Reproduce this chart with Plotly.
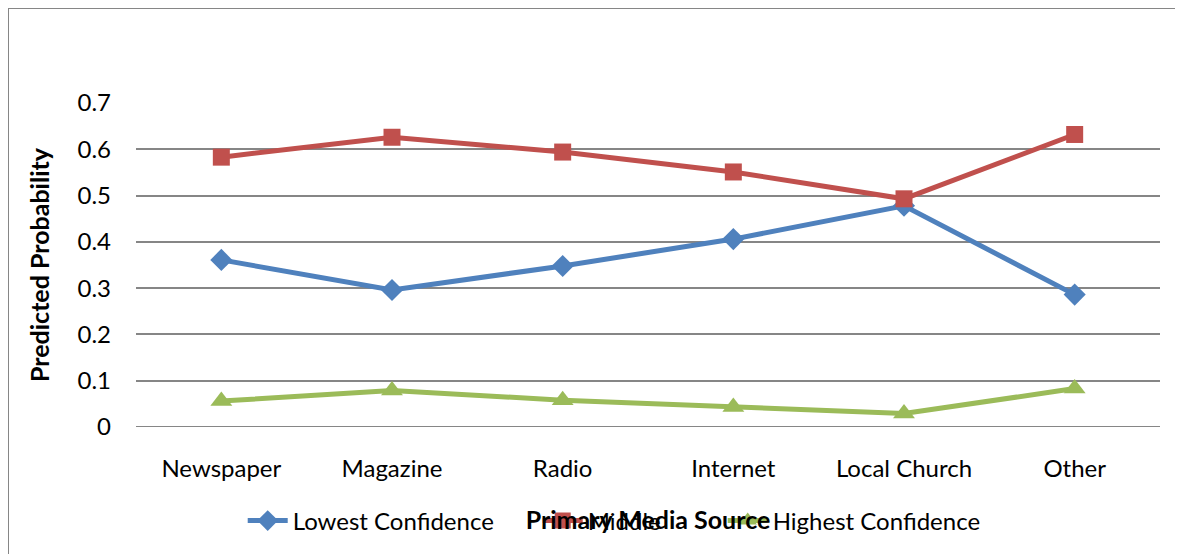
import plotly.graph_objects as go

categories = ["Newspaper", "Magazine", "Radio", "Internet", "Local Church", "Other"]
lowest = [0.361, 0.296, 0.348, 0.406, 0.478, 0.286]
middle = [0.583, 0.626, 0.594, 0.551, 0.493, 0.632]
highest = [0.056, 0.079, 0.058, 0.043, 0.029, 0.083]
yticks = [0, 0.1, 0.2, 0.3, 0.4, 0.5, 0.6, 0.7]
ytick_text = ["0", "0.1", "0.2", "0.3", "0.4", "0.5", "0.6", "0.7"]

FONT = "Lato"
fig = go.Figure()
fig.add_trace(go.Scatter(x=categories, y=lowest, name="Lowest Confidence", mode="lines+markers",
                         line=dict(color="#4F81BD", width=5), legendwidth=240,
                         marker=dict(symbol="diamond", size=17, color="#4F81BD")))
fig.add_trace(go.Scatter(x=categories, y=middle, name="Middle", mode="lines+markers",
                         line=dict(color="#C0504D", width=5), legendwidth=130,
                         marker=dict(symbol="square", size=17, color="#C0504D")))
fig.add_trace(go.Scatter(x=categories, y=highest, name="Highest Confidence", mode="lines+markers",
                         line=dict(color="#9BBB59", width=5),
                         marker=dict(symbol="triangle-up", size=19, color="#9BBB59")))

fig.update_layout(
    width=1183, height=554,
    margin=dict(l=128, r=31, t=95, b=135),
    paper_bgcolor="white", plot_bgcolor="white",
    font=dict(family=FONT, size=24, color="black"),
    showlegend=True,
    legend=dict(orientation="h", x=0.467, xanchor="center", y=-0.29, yanchor="middle",
                font=dict(family=FONT, size=24, color="black"), bgcolor="rgba(0,0,0,0)",
                itemwidth=40),
    xaxis=dict(range=[-0.5, 5.5], showgrid=False, showline=False, zeroline=False,
               ticks="", ticklabelstandoff=25,
               title=dict(text="<b>Primary Media Source</b>", standoff=30,
                          font=dict(family=FONT, size=25))),
    yaxis=dict(range=[0, 0.7], tickvals=yticks, ticktext=ytick_text, showgrid=True,
               gridcolor="#868686", gridwidth=2, zeroline=False, showline=False,
               ticks="", ticklabelstandoff=24,
               title=dict(text="<b>Predicted Probability</b>", standoff=20,
                          font=dict(family=FONT, size=25))),
    shapes=[dict(type="rect", xref="paper", yref="paper", x0=-0.125, x1=1.2, y0=-0.6, y1=1.293,
                 line=dict(color="#868686", width=2), fillcolor="rgba(0,0,0,0)", layer="below")],
)
fig.add_shape(type="line", xref="paper", yref="y", x0=0, x1=1, y0=0, y1=0,
              line=dict(color="#868686", width=2), layer="below")

fig.write_html("out.html")
